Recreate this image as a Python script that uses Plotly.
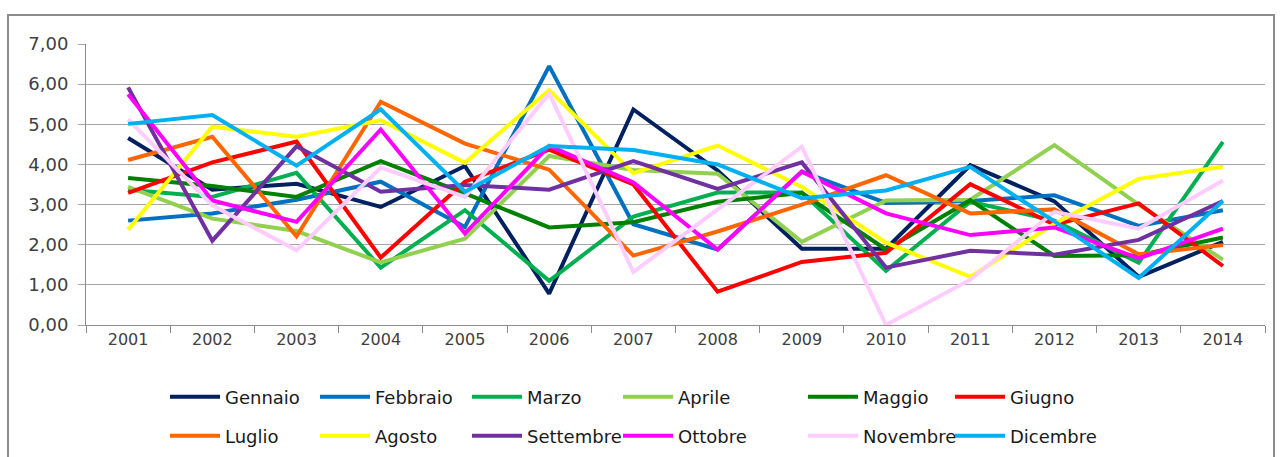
import plotly.graph_objects as go

years = [str(y) for y in range(2001, 2015)]

gennaio   = [4.66, 3.37, 3.52, 2.94, 3.96, 0.78, 5.37, 3.85, 1.90, 1.90, 3.98, 3.08, 1.20, 2.07]
febbraio  = [2.60, 2.78, 3.12, 3.57, 2.44, 6.45, 2.51, 1.88, 3.82, 3.04, 3.09, 3.23, 2.47, 2.86]
marzo     = [3.37, 3.19, 3.79, 1.43, 2.86, 1.10, 2.70, 3.30, 3.30, 1.35, 3.07, 2.60, 1.55, 4.56]
aprile    = [3.44, 2.65, 2.34, 1.56, 2.15, 4.21, 3.86, 3.77, 2.07, 3.10, 3.12, 4.48, 3.00, 1.63]
maggio    = [3.66, 3.46, 3.19, 4.08, 3.28, 2.43, 2.56, 3.07, 3.29, 1.88, 3.11, 1.72, 1.74, 2.18]
giugno    = [3.29, 4.05, 4.57, 1.68, 3.57, 4.37, 3.50, 0.83, 1.57, 1.80, 3.51, 2.50, 3.03, 1.47]
luglio    = [4.11, 4.69, 2.21, 5.56, 4.52, 3.87, 1.73, 2.33, 3.00, 3.73, 2.78, 2.88, 1.76, 1.99]
agosto    = [2.37, 4.94, 4.69, 5.10, 4.04, 5.85, 3.78, 4.47, 3.44, 2.05, 1.20, 2.52, 3.64, 3.94]
settembre = [5.92, 2.10, 4.45, 3.32, 3.49, 3.37, 4.08, 3.39, 4.05, 1.43, 1.85, 1.75, 2.12, 3.09]
ottobre   = [5.75, 3.10, 2.57, 4.87, 2.28, 4.46, 3.55, 1.88, 3.82, 2.78, 2.24, 2.43, 1.66, 2.40]
novembre  = [5.12, 2.98, 1.86, 3.92, 3.19, 5.77, 1.32, 2.87, 4.44, 0.00, 1.13, 2.82, 2.40, 3.60]
dicembre  = [5.01, 5.23, 3.97, 5.37, 3.32, 4.46, 4.36, 4.00, 3.16, 3.35, 3.94, 2.58, 1.17, 3.09]

months = ["Gennaio", "Febbraio", "Marzo", "Aprile", "Maggio", "Giugno",
          "Luglio", "Agosto", "Settembre", "Ottobre", "Novembre", "Dicembre"]
values = [gennaio, febbraio, marzo, aprile, maggio, giugno,
          luglio, agosto, settembre, ottobre, novembre, dicembre]
colors = ["#002060", "#0070C0", "#00B050", "#92D050", "#008000", "#FF0000",
          "#FF6600", "#FFFF00", "#7030A0", "#FF00FF", "#FFCCFF", "#00B0F0"]

# legend column widths (px of text slot) for the six columns of each row
col_widths = [85, 87, 86, 120, 82, 100]

FONT = "Verdana, DejaVu Sans, sans-serif"
TXT = "#404040"
GRID = "#A6A6A6"

fig = go.Figure()
for i, (name, vals, col) in enumerate(zip(months, values, colors)):
    fig.add_trace(go.Scatter(
        x=years, y=vals, name=name, mode="lines",
        line=dict(color=col, width=4),
        legend="legend" if i < 6 else "legend2",
        legendwidth=col_widths[i % 6],
    ))

W, H = 1281, 457
L, R, T, B = 86, 16, 44, 132
pw, ph = W - L - R, H - T - B

def px_to_paper_x(px):
    return (px - L) / pw

def px_to_paper_y(py):
    return (H - B - py) / ph

legend_common = dict(
    orientation="h", xref="container", yref="container",
    xanchor="left", yanchor="middle",
    font=dict(family=FONT, size=18, color="#1a1a1a"),
    entrywidthmode="pixels",
    itemwidth=50, bgcolor="rgba(0,0,0,0)", borderwidth=0,
    tracegroupgap=0,
)

fig.update_layout(
    width=W, height=H,
    margin=dict(l=L, r=R, t=T, b=B, pad=0),
    paper_bgcolor="white", plot_bgcolor="white",
    separators=",.",
    font=dict(family=FONT, color=TXT, size=16),
    legend=dict(x=165 / W, y=1 - 397 / H, **legend_common),
    legend2=dict(x=165 / W, y=1 - 436 / H, **legend_common),
    xaxis=dict(
        type="category", showgrid=False,
        showline=True, linecolor="#8C8C8C", linewidth=1,
        ticks="outside", ticklen=7, tickcolor="#8C8C8C",
        tickson="boundaries",
        tickfont=dict(family=FONT, size=16, color=TXT),
        range=[-0.5, len(years) - 0.5],
    ),
    yaxis=dict(
        range=[0, 7], dtick=1, tickformat=".2f",
        showgrid=True, gridcolor=GRID, gridwidth=1,
        showline=True, linecolor="#8C8C8C", linewidth=1,
        ticks="outside", ticklen=7, tickcolor=GRID,
        zeroline=False,
        tickfont=dict(family=FONT, size=18, color=TXT),
        ticklabelstandoff=6,
    ),
    shapes=[dict(
        type="rect", xref="paper", yref="paper",
        x0=px_to_paper_x(8), x1=px_to_paper_x(1274),
        y0=px_to_paper_y(480), y1=px_to_paper_y(15),
        line=dict(color="#8C8C8C", width=2), fillcolor="rgba(0,0,0,0)",
        layer="below",
    )],
)

fig.write_html("out.html")
